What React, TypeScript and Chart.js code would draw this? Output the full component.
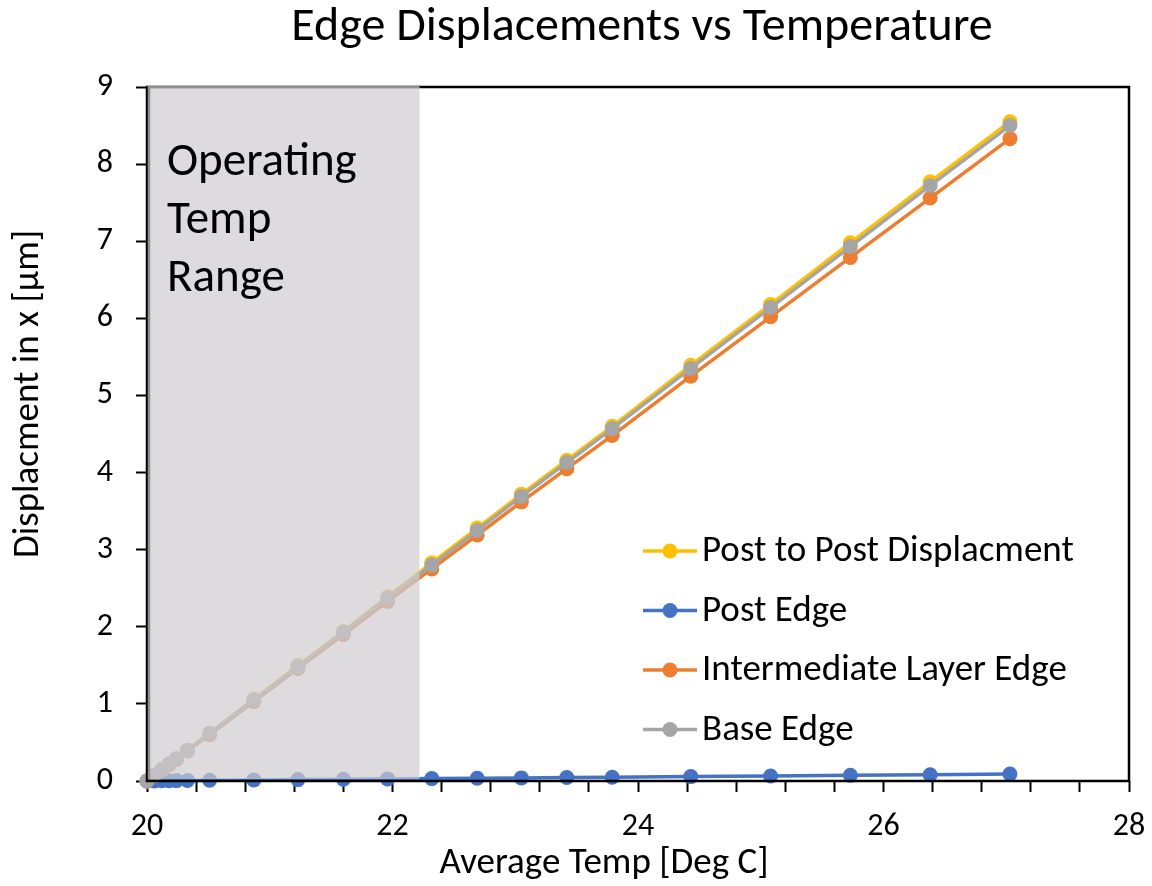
import React, { useEffect, useRef } from "react";
import { Chart, registerables } from "chart.js";

Chart.register(...registerables);

const FONT = "Carlito, Calibri, Lato, sans-serif";

const temps = [20.0, 20.06, 20.12, 20.18, 20.24, 20.33, 20.51, 20.87, 21.23, 21.6, 21.96, 22.32, 22.69, 23.05, 23.42, 23.79, 24.43, 25.08, 25.73, 26.38, 27.03];
const postToPost = [0, 0.07, 0.15, 0.22, 0.29, 0.4, 0.62, 1.06, 1.5, 1.94, 2.39, 2.83, 3.28, 3.72, 4.16, 4.6, 5.39, 6.18, 6.98, 7.77, 8.55];
const postEdge = [0, 0.001, 0.003, 0.004, 0.005, 0.007, 0.01, 0.014, 0.018, 0.022, 0.027, 0.031, 0.036, 0.04, 0.045, 0.049, 0.057, 0.065, 0.073, 0.081, 0.09];
const intermediateEdge = [0, 0.07, 0.14, 0.21, 0.28, 0.39, 0.6, 1.03, 1.46, 1.9, 2.33, 2.75, 3.19, 3.62, 4.05, 4.48, 5.25, 6.02, 6.79, 7.56, 8.33];
const baseEdge = [0, 0.07, 0.15, 0.22, 0.29, 0.4, 0.62, 1.05, 1.48, 1.93, 2.37, 2.8, 3.25, 3.69, 4.13, 4.57, 5.35, 6.14, 6.93, 7.72, 8.5];

const seriesNames = ["Post to Post Displacment", "Post Edge", "Intermediate Layer Edge", "Base Edge"];
const seriesColors = ["#FFC000", "#4472C4", "#ED7D31", "#A5A5A5"];
const seriesValues = [postToPost, postEdge, intermediateEdge, baseEdge];
const drawOrder = [3, 2, 1, 0];

const chartTitle = "Edge Displacements vs Temperature";
const xTitle = "Average Temp [Deg C]";
const yTitle = "Displacment in x [μm]";
const operatingRange = [20, 22.22];
const operatingLabel = ["Operating", "Temp", "Range"];
const xRange = [20, 28];
const yRange = [0, 9];

const decorPlugin = {
  id: "decor",
  afterDatasetsDraw(chart: any) {
    const { ctx, chartArea: ca, scales } = chart;
    const xs = scales.x;
    const ys = scales.y;
    ctx.save();
    // plot border
    ctx.strokeStyle = "#000";
    ctx.lineWidth = 2.5;
    ctx.strokeRect(ca.left, ca.top, ca.right - ca.left, ca.bottom - ca.top);
    // operating range box
    const bx0 = xs.getPixelForValue(operatingRange[0]);
    const bx1 = xs.getPixelForValue(operatingRange[1]);
    const by0 = ys.getPixelForValue(yRange[1]);
    const by1 = ys.getPixelForValue(yRange[0]);
    ctx.fillStyle = "rgba(207,204,206,0.7)";
    ctx.fillRect(bx0 + 1, by0, bx1 - bx0 - 1, by1 - by0 - 2);
    ctx.strokeStyle = "#8f8f8f";
    ctx.lineWidth = 2.5;
    ctx.beginPath();
    ctx.moveTo(bx0 + 2, by1 - 2);
    ctx.lineTo(bx0 + 2, by0);
    ctx.lineTo(bx1, by0);
    ctx.stroke();
    // operating label
    ctx.fillStyle = "#000";
    ctx.font = `47px ${FONT}`;
    ctx.textAlign = "left";
    ctx.textBaseline = "middle";
    operatingLabel.forEach((t, i) => ctx.fillText(t, bx0 + 20, 163 + i * 58));
    // legend
    ctx.font = `37px ${FONT}`;
    seriesNames.forEach((name, i) => {
      const y = 551 + i * 59.5;
      ctx.strokeStyle = seriesColors[i];
      ctx.lineWidth = 3.5;
      ctx.beginPath();
      ctx.moveTo(643, y);
      ctx.lineTo(697, y);
      ctx.stroke();
      ctx.fillStyle = seriesColors[i];
      ctx.beginPath();
      ctx.arc(670, y, 7.5, 0, Math.PI * 2);
      ctx.fill();
      ctx.fillStyle = "#000";
      ctx.fillText(name, 702, y + 1);
    });
    ctx.restore();
  },
  afterDraw(chart: any) {
    const { ctx } = chart;
    ctx.save();
    ctx.fillStyle = "#000";
    ctx.textAlign = "center";
    ctx.textBaseline = "middle";
    ctx.font = `48px ${FONT}`;
    ctx.fillText(chartTitle, 642, 28);
    ctx.font = `37px ${FONT}`;
    ctx.fillText(xTitle, 604, 864);
    ctx.translate(29, 394);
    ctx.rotate(-Math.PI / 2);
    ctx.fillText(yTitle, 0, 0);
    ctx.restore();
  },
};

export default function App() {
  const ref = useRef<HTMLCanvasElement | null>(null);
  useEffect(() => {
    document.body.style.margin = "0";
    if (!ref.current) return;
    const datasets = seriesNames.map((name, i) => ({
      label: name,
      data: temps.map((t, j) => ({ x: t, y: seriesValues[i][j] })),
      borderColor: seriesColors[i],
      backgroundColor: seriesColors[i],
      borderWidth: 3.5,
      pointRadius: 7.5,
      pointBorderWidth: 0,
      pointBackgroundColor: seriesColors[i],
      showLine: true,
      tension: 0,
      clip: false as any,
      order: drawOrder[i],
    }));
    const isMajor = (v: number) => Math.abs(v / 2 - Math.round(v / 2)) < 1e-6;
    const chart = new Chart(ref.current, {
      type: "scatter",
      data: { datasets },
      plugins: [decorPlugin],
      options: {
        responsive: false,
        animation: false,
        layout: { padding: { top: 87, right: 23, left: 0, bottom: 0 } },
        plugins: { legend: { display: false }, tooltip: { enabled: false }, title: { display: false } },
        scales: {
          x: {
            type: "linear",
            min: xRange[0],
            max: xRange[1],
            afterFit: (s: any) => {
              s.height = 105;
              s.paddingLeft = 0;
              s.paddingRight = 0;
            },
            ticks: {
              stepSize: 0.4,
              autoSkip: false,
              maxRotation: 0,
              padding: 16,
              color: "#000",
              font: { family: FONT, size: 32 },
              callback: (v: any) => (isMajor(Number(v)) ? String(Math.round(Number(v))) : ""),
            },
            grid: { display: true, drawOnChartArea: false, drawTicks: true, tickLength: 11, tickColor: "#000", tickWidth: 2 },
            border: { display: false },
          },
          y: {
            min: yRange[0],
            max: yRange[1],
            afterFit: (s: any) => {
              s.width = 147;
              s.paddingTop = 0;
              s.paddingBottom = 0;
            },
            ticks: {
              stepSize: 1,
              padding: 23,
              color: "#000",
              font: { family: FONT, size: 32 },
            },
            grid: { display: true, drawOnChartArea: false, drawTicks: true, tickLength: 11, tickColor: "#000", tickWidth: 2 },
            border: { display: false },
          },
        },
      } as any,
    });
    return () => chart.destroy();
  }, []);
  return (
    <div style={{ position: "absolute", left: 0, top: 0, width: 1152, height: 886, background: "#fff" }}>
      <canvas ref={ref} width={1152} height={886} />
    </div>
  );
}
